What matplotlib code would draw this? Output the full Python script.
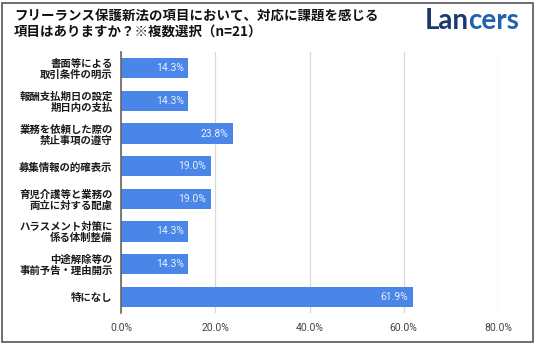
import matplotlib
matplotlib.use('Agg')
import matplotlib.pyplot as plt
from matplotlib.patches import Rectangle

plt.rcParams['font.family'] = ['Noto Sans CJK JP', 'DejaVu Sans']

TITLE = 'フリーランス保護新法の項目において、対応に課題を感じる\n項目はありますか？※複数選択（n=21）'
CATEGORIES = [
    '書面等による\n取引条件の明示',
    '報酬支払期日の設定\n期日内の支払',
    '業務を依頼した際の\n禁止事項の遵守',
    '募集情報の的確表示',
    '育児介護等と業務の\n両立に対する配慮',
    'ハラスメント対策に\n係る体制整備',
    '中途解除等の\n事前予告・理由開示',
    '特になし',
]
VALUES = [14.3, 14.3, 23.8, 19.0, 19.0, 14.3, 14.3, 61.9]
XTICKS = [0, 20, 40, 60, 80]

BAR_COLOR = '#4a86e8'

fig = plt.figure(figsize=(5.36, 3.44), dpi=100)
W, H = 536, 344
ax = fig.add_axes([121 / W, 1 - 313 / H, (498 - 121) / W, (313 - 52) / H])

y = list(range(len(CATEGORIES)))
ax.barh(y, VALUES, height=0.62, color=BAR_COLOR, zorder=3)
for yi, v in zip(y, VALUES):
    ax.text(v - 1.0, yi, f'{v:.1f}%', ha='right', va='center',
            color='#e8f0fd', fontsize=7.5, family='Roboto', zorder=4)

ax.set_ylim(len(CATEGORIES) - 0.5, -0.5)
ax.set_xlim(0, 80)
ax.set_yticks(y)
ax.set_yticklabels(CATEGORIES, fontsize=7.5, fontweight='bold', color='#1a1a1a',
                   linespacing=1.1)
ax.set_xticks(XTICKS)
ax.set_xticklabels([f'{t:.1f}%' for t in XTICKS], fontsize=7.5,
                   color='#444444', family='Roboto')
ax.tick_params(axis='both', length=0)
ax.tick_params(axis='y', pad=6)
ax.tick_params(axis='x', pad=7)
ax.grid(axis='x', color='#d9d9d9', linewidth=0.9, zorder=0)
for s in ('top', 'right', 'bottom'):
    ax.spines[s].set_visible(False)
ax.spines['left'].set_color('#666666')
ax.spines['left'].set_linewidth(1.2)
ax.spines['left'].set_zorder(5)

fig.text(14 / W, 1 - 9 / H, TITLE, ha='left', va='top', fontsize=9.7,
         fontweight='bold', color='#111111', linespacing=1.12)

# logo: two-colour word
lan = fig.text(425 / W, 1 - 29 / H, 'Lan', ha='left', va='baseline', fontsize=20,
               fontweight='bold', color='#1b3a6b', family='Lato')
ax.annotate('cers', xy=(1, 0), xycoords=lan, xytext=(-0.5, 0),
            textcoords='offset points', ha='left', va='bottom',
            fontsize=20, fontweight='bold', color='#1f63ad', family='Lato',
            annotation_clip=False)

fig.add_artist(Rectangle((2 / W, 2 / H), (W - 5) / W, (H - 5) / H,
                         transform=fig.transFigure, fill=False,
                         edgecolor='#555555', linewidth=1.2))

fig.savefig('out.png', dpi=100)
